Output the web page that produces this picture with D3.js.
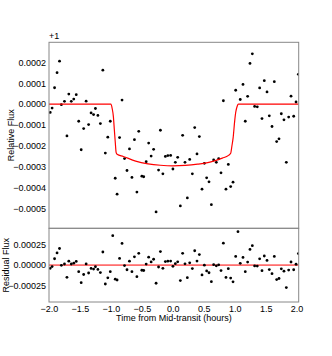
<!DOCTYPE html>
<html>
<head>
<meta charset="utf-8">
<script src="https://cdn.jsdelivr.net/npm/d3@7"></script>
<style>
  body { margin: 0; background: #fff; }
  svg text { font-family: "Liberation Sans", Arial, sans-serif; fill: #000; }
</style>
</head>
<body>
<div id="chart"></div>
<script>
// time from mid-transit (hours)
const times = [
  -1.98, -1.95, -1.91, -1.87, -1.83, -1.80, -1.75, -1.71, -1.68, -1.64,
  -1.60, -1.56, -1.52, -1.48, -1.44, -1.40, -1.36, -1.32, -1.28, -1.25,
  -1.21, -1.17, -1.13, -1.09, -1.05, -1.01, -0.97, -0.93, -0.90, -0.86,
  -0.82, -0.78, -0.74, -0.70, -0.66, -0.62, -0.58, -0.55, -0.50, -0.47,
  -0.43, -0.39, -0.35, -0.31, -0.27, -0.23, -0.20, -0.16, -0.12, -0.08,
  -0.035, 0.002, 0.041, 0.079, 0.122, 0.159, 0.197, 0.235, 0.273, 0.316,
  0.354, 0.391, 0.429, 0.472, 0.510, 0.547, 0.585, 0.623, 0.660, 0.703,
  0.741, 0.779, 0.817, 0.859, 0.897, 0.935, 0.973, 1.016, 1.053, 1.090,
  1.134, 1.171, 1.209, 1.247, 1.285, 1.322, 1.365, 1.403, 1.441, 1.478,
  1.522, 1.559, 1.603, 1.640, 1.678, 1.716, 1.753, 1.796, 1.834, 1.872,
  1.910, 1.953, 1.991, 2.029
];

// relative flux (offset +1)
const flux = [
  -0.000040, -0.000019, 0.000078, 0.000150, 0.000205, -0.000003, 0.000013, -0.000152, 0.000048, 0.000013,
  0.000024, 0.000045, -0.000082, -0.000218, -0.000117, 0.000014, -0.000098, -0.000042, -0.000050, -0.000021,
  -0.000054, -0.000093, 0.000162, -0.000234, -0.000158, -0.000082, 0.000324, -0.000354, -0.000430, -0.000160,
  0.000019, -0.000260, -0.000317, -0.000214, -0.000350, -0.000170, -0.000420, -0.000130, -0.000344, -0.000347,
  -0.000275, -0.000186, -0.000248, -0.000216, -0.000515, -0.000315, -0.000125, -0.000333, -0.000250, -0.000246,
  -0.000245, -0.000310, -0.000278, -0.000254, -0.000486, -0.000149, -0.000278, -0.000448, -0.000264, -0.000333,
  -0.000112, -0.000238, -0.000155, -0.000406, -0.000283, -0.000352, -0.000371, -0.000480, -0.000267, -0.000278,
  -0.000261, -0.000328, 0.000016, -0.000406, -0.000288, -0.000394, -0.000373, 0.000066, 0.000410, 0.000022,
  0.000094, -0.000082, 0.000037, 0.000194, 0.000240, -0.000011, -0.000013, 0.000077, -0.000069, 0.000112,
  0.000058, -0.000056, -0.000107, 0.000107, -0.000179, -0.000166, -0.000046, -0.000075, -0.000278, -0.000062,
  0.000038, -0.000058, 0.000010, 0.000142
];

// residual flux
const residuals = [
  -0.000040, -0.000019, 0.000078, 0.000150, 0.000205, -0.000003, 0.000013, -0.000152, 0.000048, 0.000013,
  0.000024, 0.000045, -0.000082, -0.000218, -0.000117, 0.000014, -0.000098, -0.000042, -0.000050, -0.000021,
  -0.000054, -0.000093, 0.000162, -0.000234, -0.000158, -0.000082, 0.000364, -0.000174, -0.000185, 0.000082,
  0.000268, -0.000006, -0.000058, 0.000048, -0.000082, 0.000102, -0.000144, 0.000145, -0.000064, -0.000067,
  0.000012, 0.000098, 0.000039, 0.000072, -0.000225, -0.000024, 0.000167, -0.000040, 0.000043, 0.000048,
  0.000050, -0.000015, 0.000017, 0.000040, -0.000192, 0.000145, 0.000015, -0.000156, 0.000028, -0.000043,
  0.000177, 0.000049, 0.000130, -0.000122, -0.000001, -0.000072, -0.000095, -0.000205, 0.000005, -0.000009,
  0.000003, -0.000068, 0.000271, -0.000153, -0.000045, -0.000161, -0.000207, 0.000107, 0.000413, 0.000022,
  0.000094, -0.000082, 0.000037, 0.000194, 0.000240, -0.000011, -0.000013, 0.000077, -0.000069, 0.000112,
  0.000058, -0.000056, -0.000107, 0.000107, -0.000179, -0.000166, -0.000046, -0.000075, -0.000278, -0.000062,
  0.000038, -0.000058, 0.000010, 0.000142
];

// transit model curve
const modelTimes = [
  -2.0, -1.0, -0.98, -0.96, -0.945, -0.93, -0.915, -0.9, -0.8, -0.6, -0.4, -0.2, 0.0,
  0.2, 0.4, 0.6, 0.8, 0.9, 0.935, 0.955, 0.975, 1.0, 1.016, 1.04, 1.06, 2.034
];
const modelFlux = [
  0, 0, -0.00002, -0.00006, -0.00012, -0.00018, -0.000232, -0.00024, -0.00025, -0.000272, -0.000285, -0.000292, -0.000295,
  -0.000293, -0.000287, -0.000277, -0.000258, -0.000245, -0.000235, -0.0002, -0.00016, -0.00008, -0.00004, -0.00001, 0, 0
];

const fluxTicks = [0.0002, 0.0001, 0, -0.0001, -0.0002, -0.0003, -0.0004, -0.0005];
const residTicks = [0.00025, 0, -0.00025];
const timeTicks = [-2.0, -1.5, -1.0, -0.5, 0.0, 0.5, 1.0, 1.5, 2.0];

const W = 332, H = 356;
const left = 49, right = 298.7;
const topY0 = 42.3, topY1 = 228.3, resY1 = 302;

const svg = d3.select("#chart").append("svg")
  .attr("width", W).attr("height", H);

const minus = s => s.replace("-", "\u2212");

const x = d3.scaleLinear().domain([-2.0, 2.034]).range([left, right]);
const yTop = d3.scaleLinear().domain([-0.000593, 0.000295]).range([topY1, topY0]);
const yRes = d3.scaleLinear().domain([-0.000457, 0.000455]).range([resY1, topY1]);

const defs = svg.append("defs");
defs.append("clipPath").attr("id", "clipTop").append("rect")
  .attr("x", left).attr("y", topY0).attr("width", right - left).attr("height", topY1 - topY0);
defs.append("clipPath").attr("id", "clipRes").append("rect")
  .attr("x", left).attr("y", topY1).attr("width", right - left).attr("height", resY1 - topY1);

const pts = times.map((t, i) => ({ t, f: flux[i], r: residuals[i] }));
const model = modelTimes.map((t, i) => ({ t, f: modelFlux[i] }));

// top panel
const gTop = svg.append("g").attr("clip-path", "url(#clipTop)");
gTop.selectAll("circle").data(pts).enter().append("circle")
  .attr("cx", d => x(d.t)).attr("cy", d => yTop(d.f)).attr("r", 1.4).attr("fill", "#000");
gTop.append("path")
  .datum(model)
  .attr("fill", "none").attr("stroke", "#ff0000").attr("stroke-width", 1.2)
  .attr("d", d3.line().x(d => x(d.t)).y(d => yTop(d.f)).curve(d3.curveMonotoneX));

// residual panel
const gRes = svg.append("g").attr("clip-path", "url(#clipRes)");
gRes.append("line")
  .attr("x1", left).attr("x2", right).attr("y1", yRes(0)).attr("y2", yRes(0))
  .attr("stroke", "#ff0000").attr("stroke-width", 1);
gRes.selectAll("circle").data(pts).enter().append("circle")
  .attr("cx", d => x(d.t)).attr("cy", d => yRes(d.r)).attr("r", 1.4).attr("fill", "#000");

// axes
const yAxisTop = svg.append("g").attr("transform", `translate(${left},0)`)
  .call(d3.axisLeft(yTop).tickValues(fluxTicks).tickSize(0).tickPadding(3)
    .tickFormat(d => minus(d3.format(".4f")(d))));
const yAxisRes = svg.append("g").attr("transform", `translate(${left},0)`)
  .call(d3.axisLeft(yRes).tickValues(residTicks).tickSize(0).tickPadding(3)
    .tickFormat(d => minus(d3.format(".5f")(d))));
const xAxis = svg.append("g").attr("transform", `translate(0,${resY1})`)
  .call(d3.axisBottom(x).tickValues(timeTicks).tickSize(0).tickPadding(4)
    .tickFormat(d => minus(d3.format(".1f")(d))));

[yAxisTop, yAxisRes, xAxis].forEach(g => {
  g.select(".domain").remove();
  g.selectAll("text").attr("font-size", "9px")
    .attr("font-family", "'Liberation Sans', Arial, sans-serif").attr("fill", "#000");
});

// frames
svg.append("rect").attr("x", left).attr("y", topY0)
  .attr("width", right - left).attr("height", topY1 - topY0)
  .attr("fill", "none").attr("stroke", "#888").attr("stroke-width", 1);
svg.append("rect").attr("x", left).attr("y", topY1)
  .attr("width", right - left).attr("height", resY1 - topY1)
  .attr("fill", "none").attr("stroke", "#888").attr("stroke-width", 1);

// labels
svg.append("text").attr("x", left).attr("y", topY0 - 3)
  .attr("font-size", "9px").text("+1");
svg.append("text")
  .attr("transform", `translate(14,${(topY0 + topY1) / 2}) rotate(-90)`)
  .attr("text-anchor", "middle").attr("font-size", "9px").text("Relative Flux");
svg.append("text")
  .attr("transform", `translate(9,${(topY1 + resY1) / 2}) rotate(-90)`)
  .attr("text-anchor", "middle").attr("font-size", "9px").text("Residual Flux");
svg.append("text")
  .attr("x", (left + right) / 2).attr("y", 321)
  .attr("text-anchor", "middle").attr("font-size", "9px").text("Time from Mid-transit (hours)");
</script>
</body>
</html>
